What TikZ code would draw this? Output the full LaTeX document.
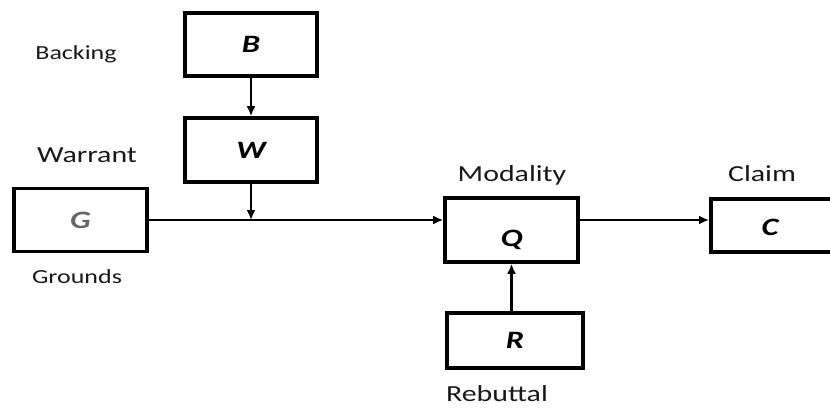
\documentclass[tikz,border=0pt]{standalone}
\usepackage{fontspec}
\setmainfont{Carlito}[FakeStretch=1.3]
\usetikzlibrary{arrows.meta}
\begin{document}
\begin{tikzpicture}[x=1pt,y=-1pt,
  box/.style={draw=black,line width=3.6pt,fill=white,inner sep=0pt},
  letter/.style={font=\fontsize{25}{25}\selectfont\bfseries\itshape},
  lab/.style={font=\fontsize{23}{23}\selectfont,anchor=base,text=black!90},
  smalllab/.style={font=\fontsize{20}{20}\selectfont,anchor=base,text=black!90},
  conn/.style={line width=2.2pt,-{Latex[length=10pt,width=9pt]}}]
\useasboundingbox (0,0) rectangle (830,409);
\clip (0,0) rectangle (830,409);
% boxes
\node[box,minimum width=132pt,minimum height=63pt,letter] (B) at (251,44.5) {B};
\node[box,minimum width=132pt,minimum height=64pt,letter] (W) at (251,150) {W};
\node[box,minimum width=133pt,minimum height=63pt,letter,text=black!60] (G) at (80.5,220) {G};
\node[box,minimum width=133pt,minimum height=64pt,
  label={[letter,yshift=-10pt]center:Q}] (Q) at (511.5,230) {};
\node[box,minimum width=130pt,minimum height=53pt,anchor=west] (C) at (709,225.5) {};
\node[letter] (Cl) at (770,227) {C};
\node[box,minimum width=136pt,minimum height=55pt,letter] (R) at (515,340.5) {R};
% labels
\node[smalllab] (lb) at (76,60) {Backing};
\node[lab] (lw) at (87,162) {Warrant};
\node[smalllab] (lg) at (77,283) {Grounds};
\node[lab] (lq) at (512,182) {Modality};
\node[lab] (lc) at (762,182) {Claim};
\node[lab] (lr) at (497,401) {Rebuttal};
% connectors
\coordinate (J) at (W.south |- G.east);
\draw[conn] (B.south) -- (W.north);
\draw[conn] (W.south) -- (J);
\draw[conn] (G.east) -- (Q.west |- G.east);
\draw[conn] (Q.east |- G.east) -- (C.west |- G.east);
\draw[conn] (R.north -| Q.south) -- (Q.south);
\end{tikzpicture}
\end{document}
